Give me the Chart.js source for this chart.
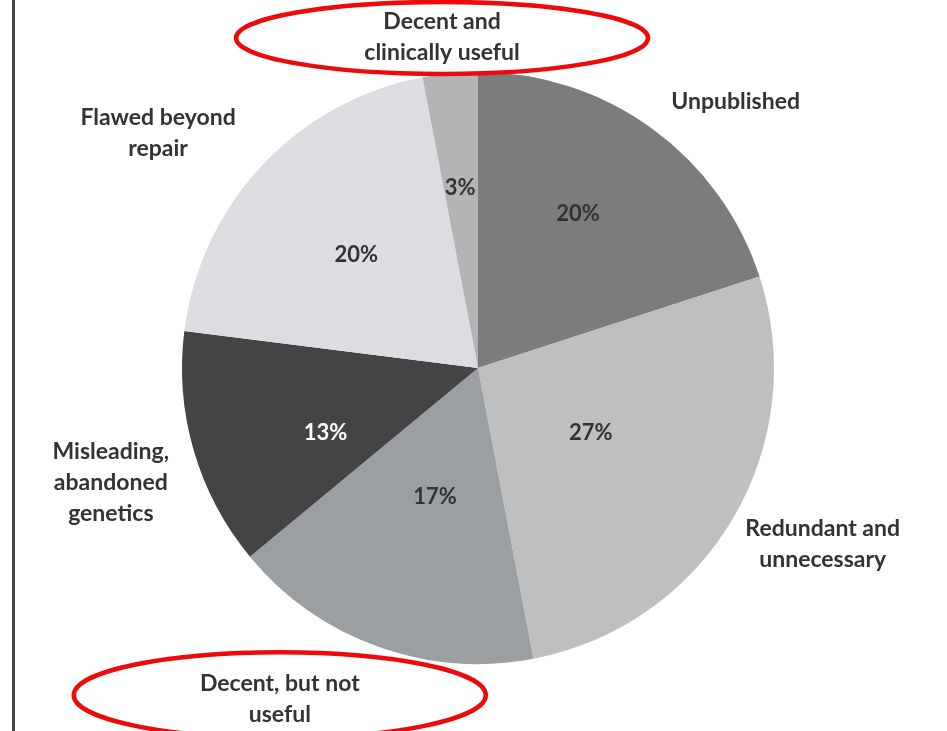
<!DOCTYPE html>
<html>
<head>
<meta charset="utf-8">
<script src="https://cdn.jsdelivr.net/npm/chart.js@4.4.1/dist/chart.umd.min.js"></script>
<style>
  html, body { margin: 0; padding: 0; background: #fff; }
  #wrap { position: relative; width: 947px; height: 731px; }
</style>
</head>
<body>
<div id="wrap"><canvas id="c" width="947" height="731"></canvas></div>
<script>
// ---- data ----
const categories = [
  ["Unpublished"],
  ["Redundant and", "unnecessary"],
  ["Decent, but not", "useful"],
  ["Misleading,", "abandoned", "genetics"],
  ["Flawed beyond", "repair"],
  ["Decent and", "clinically useful"]
];
const shares = [20, 27, 17, 13, 20, 3];
const percentLabels = ["20%", "27%", "17%", "13%", "20%", "3%"];
const highlighted = [false, false, true, false, false, true];

// ---- styles ----
const sliceColors = ["#7b7c7e", "#bebfc1", "#9c9fa2", "#444446", "#dcdde0", "#b3b4b6"];
const percentColors = ["#333333", "#333333", "#333333", "#ffffff", "#333333", "#333333"];
const innerPlace = { angleOffset: [-3, -0.6, -1.4, -6.8, -0.4, -0.3], radius: [0.62, 0.44, 0.46, 0.56, 0.56, 0.61] };
const outerPlace = { angleOffset: [8, -3.6, 11.1, -1.2, -6.9, -0.8], radius: [1.253, 1.307, 1.304, 1.30, 1.341, 1.125] };
const ellipseSize = { rx: [0, 0, 206, 0, 0, 206], ry: [0, 0, 43, 0, 0, 36], dy: [0, 0, -4, 0, 0, 1] };

const labelPlugin = {
  id: 'pieLabels',
  afterDatasetsDraw(chart) {
    const ctx = chart.ctx;
    const meta = chart.getDatasetMeta(0);
    ctx.save();
    ctx.textAlign = 'center';
    ctx.textBaseline = 'middle';
    meta.data.forEach((arc, i) => {
      const p = arc.getProps(['x', 'y', 'startAngle', 'endAngle', 'outerRadius'], true);
      const mid = (p.startAngle + p.endAngle) / 2;
      // inner percentage
      const a1 = mid + innerPlace.angleOffset[i] * Math.PI / 180;
      const r1 = p.outerRadius * innerPlace.radius[i];
      ctx.font = 'bold 22px Lato, "Open Sans", sans-serif';
      ctx.fillStyle = percentColors[i];
      ctx.fillText(percentLabels[i], p.x + Math.cos(a1) * r1, p.y + Math.sin(a1) * r1);
      // outer category
      const a2 = mid + outerPlace.angleOffset[i] * Math.PI / 180;
      const r2 = p.outerRadius * outerPlace.radius[i];
      const cx = p.x + Math.cos(a2) * r2;
      const cy = p.y + Math.sin(a2) * r2;
      const lines = categories[i];
      const lh = 31;
      ctx.font = 'bold 23px Lato, "Open Sans", sans-serif';
      ctx.fillStyle = '#333333';
      lines.forEach((ln, k) => {
        ctx.fillText(ln, cx, cy + (k - (lines.length - 1) / 2) * lh);
      });
      if (highlighted[i]) {
        ctx.beginPath();
        ctx.ellipse(cx, cy + ellipseSize.dy[i], ellipseSize.rx[i], ellipseSize.ry[i], 0, 0, Math.PI * 2);
        ctx.strokeStyle = '#ee0a0a';
        ctx.lineWidth = 4.5;
        ctx.stroke();
      }
    });
    // left frame line
    ctx.beginPath();
    ctx.moveTo(13.5, 0);
    ctx.lineTo(13.5, chart.height);
    ctx.strokeStyle = '#474747';
    ctx.lineWidth = 3;
    ctx.stroke();
    ctx.restore();
  }
};

new Chart(document.getElementById('c'), {
  type: 'pie',
  data: {
    labels: categories,
    datasets: [{
      data: shares,
      backgroundColor: sliceColors,
      borderWidth: 0
    }]
  },
  options: {
    responsive: false,
    devicePixelRatio: 1,
    animation: false,
    layout: { padding: { left: 182, right: 173, top: 72, bottom: 67 } },
    plugins: {
      legend: { display: false },
      tooltip: { enabled: false }
    }
  },
  plugins: [labelPlugin]
});
</script>
</body>
</html>
